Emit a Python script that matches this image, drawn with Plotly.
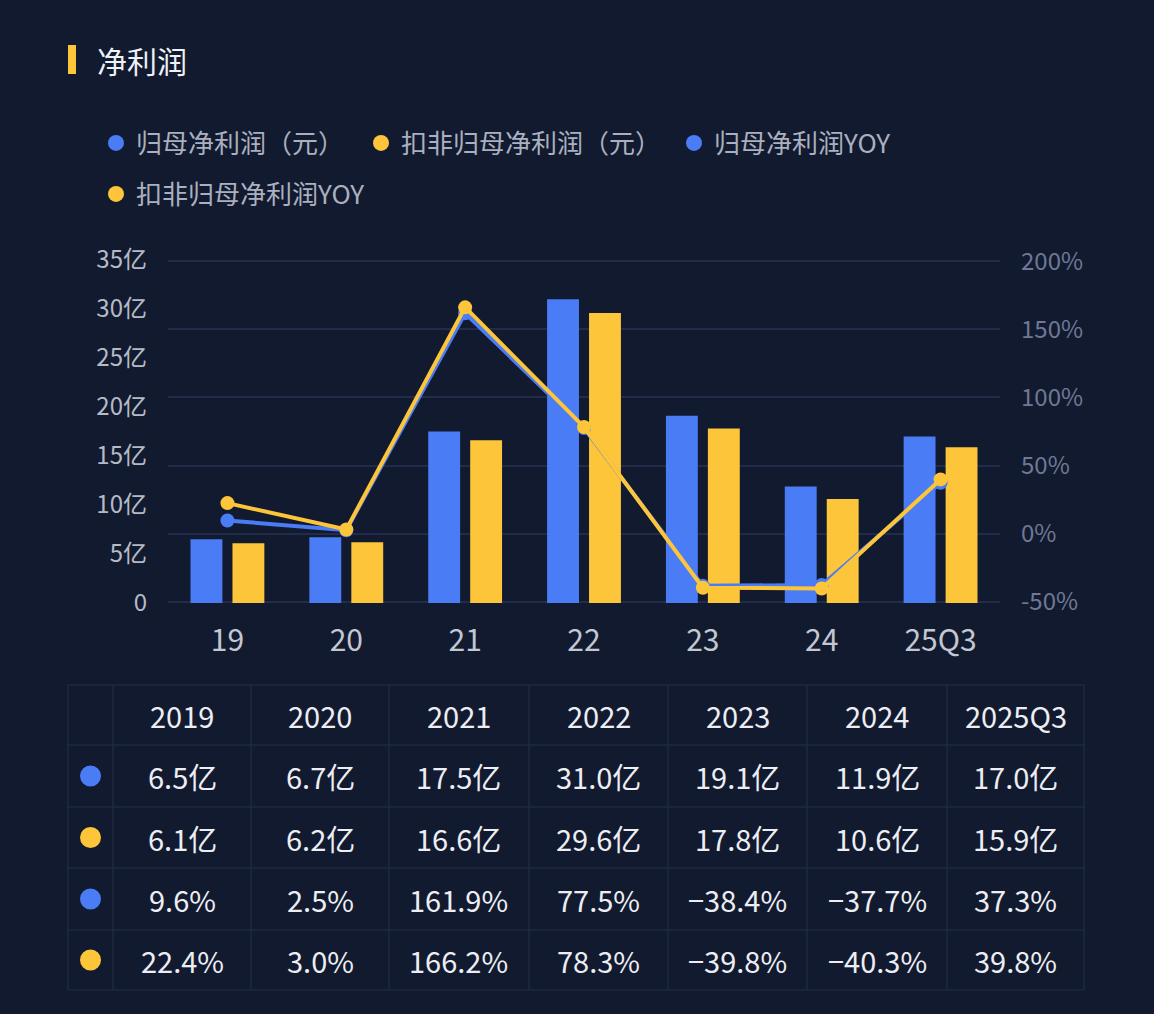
import plotly.graph_objects as go

W, H = 1154, 1014
BG = "#121a2f"
BLUE = "#4a7cf6"
YELLOW = "#fdc53a"
FONT = "Noto Sans CJK SC, Noto Sans, sans-serif"

# ---------------- data ----------------
categories = ["19", "20", "21", "22", "23", "24", "25Q3"]
table_headers = ["2019", "2020", "2021", "2022", "2023", "2024", "2025Q3"]
net_profit = [6.5, 6.7, 17.5, 31.0, 19.1, 11.9, 17.0]          # 归母净利润（亿元）
deducted_profit = [6.1, 6.2, 16.6, 29.6, 17.8, 10.6, 15.9]     # 扣非归母净利润（亿元）
net_yoy = [9.6, 2.5, 161.9, 77.5, -38.4, -37.7, 37.3]          # 归母净利润YOY (%)
deducted_yoy = [22.4, 3.0, 166.2, 78.3, -39.8, -40.3, 39.8]    # 扣非归母净利润YOY (%)
left_ticks = [0, 5, 10, 15, 20, 25, 30, 35]
right_ticks = [-50, 0, 50, 100, 150, 200]
series_names = ["归母净利润（元）", "扣非归母净利润（元）", "归母净利润YOY", "扣非归母净利润YOY"]
series_colors = [BLUE, YELLOW, BLUE, YELLOW]


def fmt_yi(v):
    return f"{v:.1f}亿"


def fmt_pct(v):
    s = f"{abs(v):.1f}%"
    return ("−" + s) if v < 0 else s


def px_x(p):
    return p / W


def px_y(p):
    return 1 - p / H


fig = go.Figure()

# bars
fig.add_trace(go.Bar(x=categories, y=net_profit, marker=dict(color=BLUE, line=dict(width=0)),
                     name=series_names[0], showlegend=False, yaxis="y"))
fig.add_trace(go.Bar(x=categories, y=deducted_profit, marker=dict(color=YELLOW, line=dict(width=0)),
                     name=series_names[1], showlegend=False, yaxis="y"))
# lines
fig.add_trace(go.Scatter(x=categories, y=net_yoy, mode="lines+markers", yaxis="y2",
                         line=dict(color=BLUE, width=4), marker=dict(color=BLUE, size=14),
                         name=series_names[2], showlegend=False))
fig.add_trace(go.Scatter(x=categories, y=deducted_yoy, mode="lines+markers", yaxis="y2",
                         line=dict(color=YELLOW, width=4), marker=dict(color=YELLOW, size=14),
                         name=series_names[3], showlegend=False))

# legend entries (dot symbols), one legend box each for exact placement
legend_ids = ["legend", "legend2", "legend3", "legend4"]
legend_pos = [(116, 143), (381, 143), (694, 143), (116, 194)]
for name, col, lid in zip(series_names, series_colors, legend_ids):
    fig.add_trace(go.Scatter(x=[None], y=[None], mode="markers", name=name,
                             marker=dict(color=col, size=20), legend=lid, showlegend=True))

legend_layouts = {}
for lid, (lx, ly) in zip(legend_ids, legend_pos):
    legend_layouts[lid] = dict(
        x=px_x(lx - 20), xanchor="left", y=px_y(ly), yanchor="middle",
        orientation="h", bgcolor="rgba(0,0,0,0)", borderwidth=0,
        font=dict(size=26, color="#aab0bf", family=FONT), itemsizing="trace",
    )

# ---------------- table (drawn with shapes + annotations) ----------------
row_edges = [685, 745, 807, 868, 930, 990]
col_edges = [68, 113, 251, 389, 529, 668, 807, 947, 1084]
GRID = "#1e2844"
TXT = "#eceef3"

shapes = [dict(type="rect", xref="paper", yref="paper", x0=px_x(68), x1=px_x(76),
               y0=px_y(74), y1=px_y(45), fillcolor=YELLOW, line=dict(width=0))]
annotations = [dict(text="净利润", x=px_x(95), y=px_y(60), xref="paper", yref="paper",
                    xanchor="left", yanchor="middle", showarrow=False,
                    font=dict(size=30, color="#eef1f6", family=FONT))]

for ry in row_edges:
    shapes.append(dict(type="line", xref="paper", yref="paper", x0=px_x(col_edges[0]),
                       x1=px_x(col_edges[-1]), y0=px_y(ry), y1=px_y(ry),
                       line=dict(color=GRID, width=1.5)))
for cx in col_edges:
    shapes.append(dict(type="line", xref="paper", yref="paper", x0=px_x(cx), x1=px_x(cx),
                       y0=px_y(row_edges[0]), y1=px_y(row_edges[-1]),
                       line=dict(color=GRID, width=1.5)))

rows = [
    [fmt_yi(v) for v in net_profit],
    [fmt_yi(v) for v in deducted_profit],
    [fmt_pct(v) for v in net_yoy],
    [fmt_pct(v) for v in deducted_yoy],
]
all_rows = [table_headers] + rows
for ri, row in enumerate(all_rows):
    cy = (row_edges[ri] + row_edges[ri + 1]) / 2
    for ci, txt in enumerate(row):
        cx = (col_edges[ci + 1] + col_edges[ci + 2]) / 2
        annotations.append(dict(text=txt, x=px_x(cx), y=px_y(cy), xref="paper", yref="paper",
                                xanchor="center", yanchor="middle", showarrow=False,
                                font=dict(size=29, color=TXT, family=FONT)))
    if ri > 0:
        dx = (col_edges[0] + col_edges[1]) / 2
        shapes.append(dict(type="circle", xref="paper", yref="paper",
                           xsizemode="pixel", ysizemode="pixel",
                           xanchor=px_x(dx), yanchor=px_y(cy),
                           x0=-10.5, x1=10.5, y0=-10.5, y1=10.5,
                           fillcolor=series_colors[ri - 1], line=dict(width=0)))

fig.update_layout(
    width=W, height=H,
    paper_bgcolor=BG, plot_bgcolor=BG,
    margin=dict(l=0, r=0, t=0, b=0, autoexpand=False),
    font=dict(family=FONT),
    barmode="group", bargap=0.294, bargroupgap=0.24,
    xaxis=dict(domain=[px_x(168), px_x(1000)], type="category", showgrid=False, zeroline=False,
               showline=False, ticks="", ticklabelstandoff=17, automargin=False,
               tickfont=dict(size=30, color="#c3c7d2", family=FONT)),
    yaxis=dict(domain=[px_y(603), px_y(260)], range=[0, 35], showgrid=False, zeroline=False,
               showline=False, tickvals=left_ticks, automargin=False,
               ticktext=[("0" if v == 0 else f"{v}亿") for v in left_ticks],
               ticks="", ticklabelstandoff=20,
               tickfont=dict(size=24, color="#b6bac7", family=FONT)),
    yaxis2=dict(overlaying="y", side="right", range=[-51, 201], tickvals=right_ticks,
                ticktext=[f"{v}%" for v in right_ticks], showgrid=True, automargin=False,
                gridcolor="#222c4a", gridwidth=1.5, zeroline=False, showline=False,
                ticks="", ticklabelstandoff=20,
                tickfont=dict(size=24, color="#6f7894", family=FONT)),
    annotations=annotations,
    shapes=shapes,
    **legend_layouts,
)

fig.write_html("out.html")
